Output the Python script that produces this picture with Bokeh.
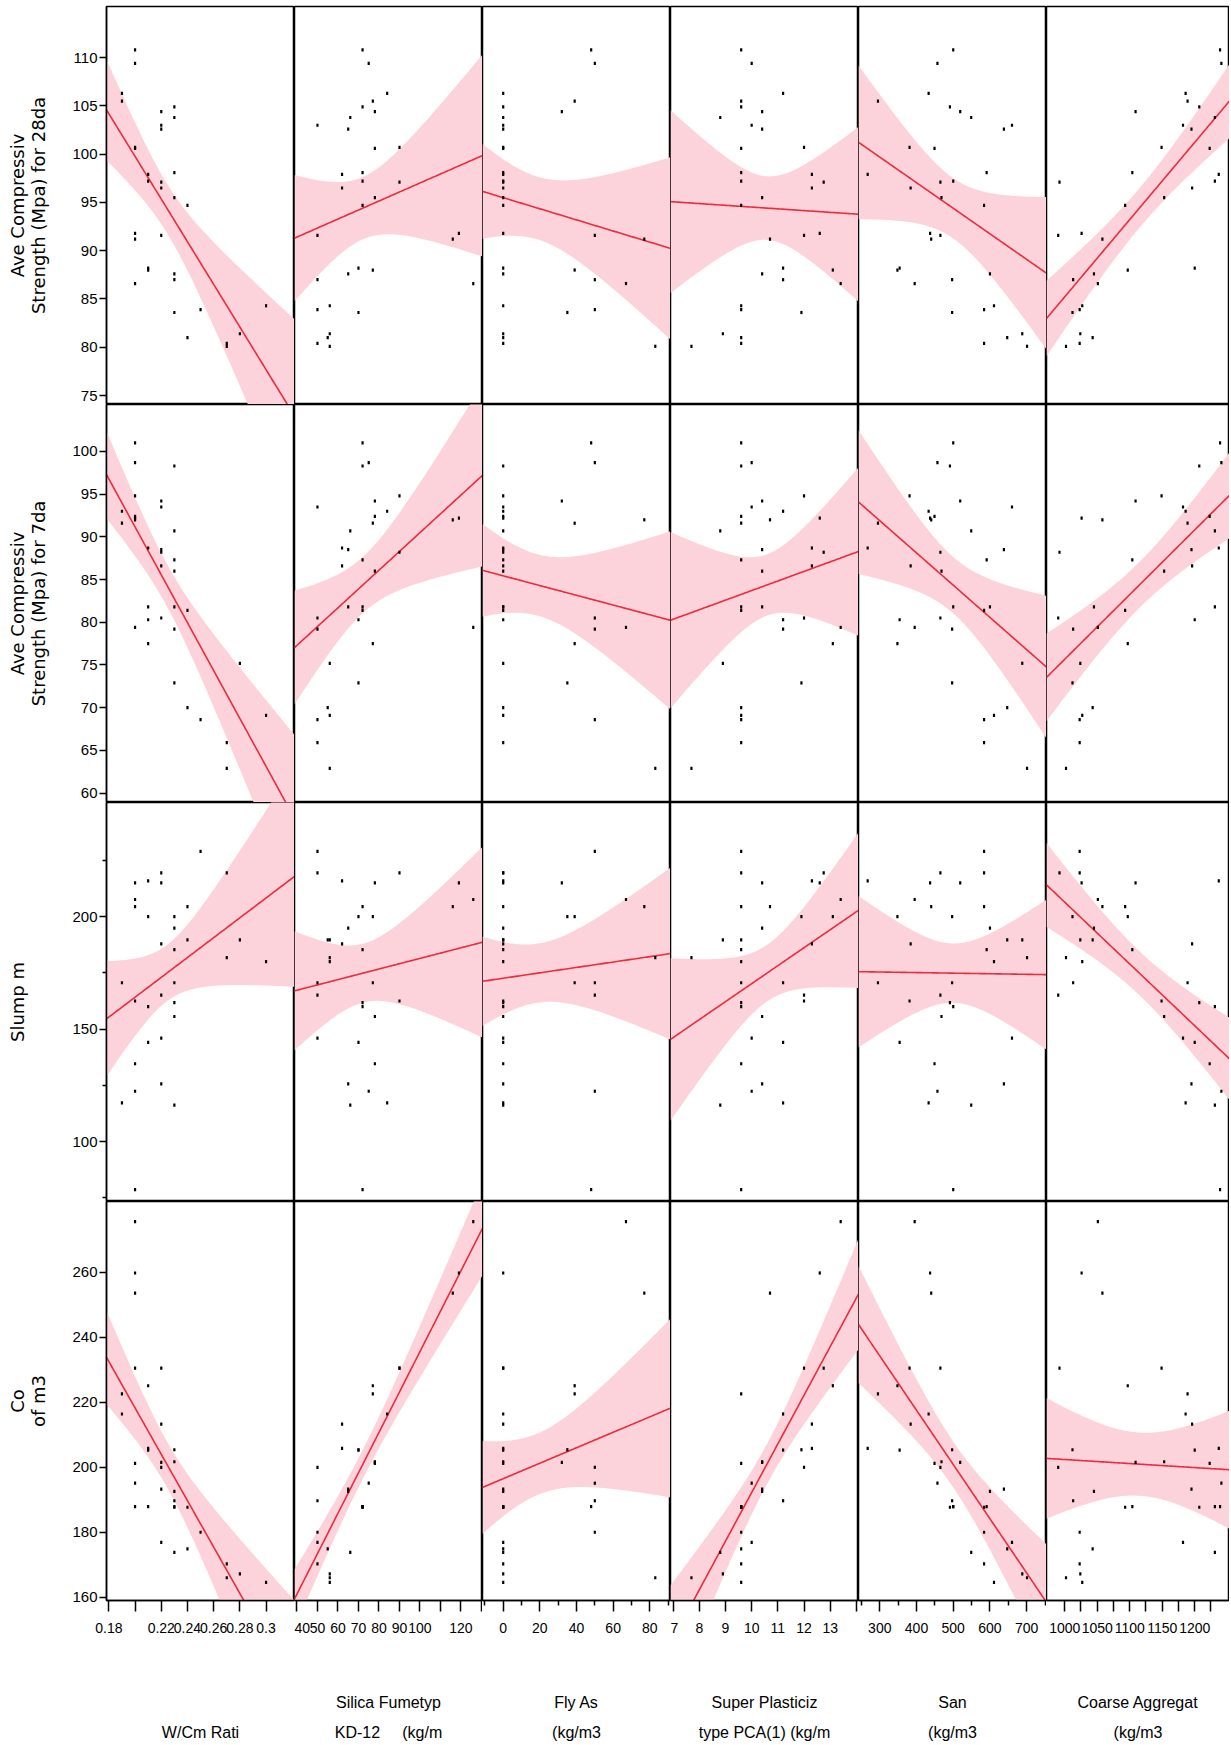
import numpy as np
from bokeh.plotting import figure
from bokeh.layouts import gridplot
from bokeh.models import FixedTicker, Range1d
from bokeh.embed import file_html
from bokeh.resources import INLINE

# ---- data: one entry per mix (33 mixes) ----
wcm = [0.20, 0.20, 0.19, 0.19, 0.23, 0.22, 0.23, 0.22, 0.22, 0.20, 0.20, 0.23, 0.21, 0.21, 0.22, 0.22, 0.23,
       0.24, 0.20, 0.22, 0.20, 0.21, 0.21, 0.23, 0.23, 0.20, 0.30, 0.25, 0.23, 0.28, 0.24, 0.27, 0.27]
silica = [72, 75, 84, 77, 72, 78, 66, 50, 65, 90, 78, 72, 62, 72, 90, 62, 78,
          72, 119, 50, 116, 70, 77, 65, 50, 126, 56, 50, 70, 56, 55, 50, 56]
fly = [48, 50, 0, 39, 0, 32, 0, 0, 0, 0, 0, 0, 0, 0, 0, 0, 0,
       0, 0, 50, 77, 0, 39, 0, 50, 67, 0, 50, 35, 0, 0, 0, 83]
sp = [9.6, 10.0, 11.2, 9.6, 9.6, 10.4, 8.8, 10.0, 10.4, 12.0, 9.6, 9.6, 12.3, 9.6, 12.75, 12.3, 10.4,
      9.6, 12.6, 12.0, 10.7, 11.2, 13.1, 10.4, 11.2, 13.4, 9.6, 9.6, 11.9, 8.9, 9.6, 9.6, 7.7]
sand = [500, 457, 433, 295, 491, 519, 549, 660, 638, 381, 449, 591, 267, 500, 465, 384, 468,
        584, 437, 465, 440, 354, 348, 600, 497, 395, 611, 584, 497, 688, 647, 584, 701]
coarse = [1239, 1241, 1186, 1189, 1207, 1109, 1231, 1182, 1195, 1149, 1223, 1104, 1237, 1231, 992, 1196, 1153,
          1093, 1026, 990, 1058, 1200, 1097, 1045, 1013, 1051, 1027, 1023, 1012, 1024, 1043, 1023, 1002]
s28 = [110.8, 109.4, 106.3, 105.5, 104.9, 104.4, 103.8, 103.0, 102.6, 100.7, 100.6, 98.1, 97.9, 97.2, 97.1, 96.5, 95.5,
       94.7, 91.8, 91.6, 91.2, 88.2, 88.0, 87.6, 87.0, 86.6, 84.3, 83.9, 83.6, 81.4, 81.0, 80.4, 80.1]
s7 = [101.0, 98.7, 93.0, 91.6, 98.3, 94.2, 90.7, 93.5, 88.5, 94.8, 92.4, 87.3, 88.7, 81.8, 88.2, 86.6, 86.0,
      81.4, 92.2, 80.5, 92.0, 80.3, 77.5, 81.8, 79.2, 79.4, 69.1, 68.6, 72.9, 75.2, 70.0, 65.9, 62.9]
slump = [78.7, 122.4, 117.2, 170.6, 161.8, 215.0, 116.2, 146.0, 125.7, 162.5, 134.6, 185.3, 215.9, 160.0, 219.4, 187.9, 155.6,
         204.4, 215.0, 165.1, 204.4, 144.1, 200.0, 194.9, 170.6, 207.6, 180.0, 229.0, 200.0, 189.7, 189.7, 219.4, 181.8]
cost = [187.9, 195.1, 216.4, 222.6, 187.7, 201.5, 173.8, 176.9, 193.3, 230.5, 201.2, 187.9, 205.8, 187.9, 230.5, 213.3, 201.7,
        187.7, 259.8, 200.0, 253.6, 205.3, 225.1, 192.6, 189.7, 275.6, 164.6, 180.0, 205.4, 167.2, 174.9, 170.3, 166.0]

x_titles = [" \nW/Cm Rati",
            "Silica Fumetyp\nKD-12\u00a0\u00a0\u00a0\u00a0\u00a0(kg/m",
            "Fly As\n(kg/m3",
            "Super Plasticiz\ntype PCA(1) (kg/m",
            "San\n(kg/m3",
            "Coarse Aggregat\n(kg/m3"]
y_titles = ["Ave Compressiv\nStrength (Mpa) for 28da",
            "Ave Compressiv\nStrength (Mpa) for 7da",
            "Slump m\n\u00a0",
            "Co\nof m3"]

# tick values and labels
x_ticks = [[0.18, 0.2, 0.22, 0.24, 0.26, 0.28, 0.3],
           [40, 50, 60, 70, 80, 90, 100, 110, 120, 130],
           [0, 20, 40, 60, 80],
           [7, 8, 9, 10, 11, 12, 13, 14],
           [300, 400, 500, 600, 700],
           [1000, 1025, 1050, 1075, 1100, 1125, 1150, 1175, 1200, 1225]]
x_tick_labels = [["0.18", "", "0.22", "0.24", "0.26", "0.28", "0.3"],
                 ["40", "50", "60", "70", "80", "90", "100", "", "120", ""],
                 ["0", "20", "40", "60", "80"],
                 ["7", "8", "9", "10", "11", "12", "13", ""],
                 ["300", "400", "500", "600", "700"],
                 ["1000", "", "1050", "", "1100", "", "1150", "", "1200", ""]]
x_minor = [[], [], [-10, 10, 30, 50, 70, 90], [], [250, 350, 450, 550, 650, 750], []]
y_ticks = [[75, 80, 85, 90, 95, 100, 105, 110],
           [60, 65, 70, 75, 80, 85, 90, 95, 100],
           [100, 150, 200],
           [160, 180, 200, 220, 240, 260]]
y_minor = [[], [], [75, 125, 175, 225], []]

x_ranges = [(0.1782, 0.3217), (38.8, 130.5), (-11.3, 91.3), (6.9, 14.08), (242, 754), (972, 1253.5)]
y_ranges = [(74.07, 115.3), (58.9, 105.5), (73.4, 250.7), (159.0, 281.8)]

x_vars = [wcm, silica, fly, sp, sand, coarse]
y_vars = [s28, s7, slump, cost]

TICKFONT = "Liberation Sans"
BAND = "#fcd3da"
LINE = "#ee2a3c"
T95 = 2.04

FRAME_W = [188, 188, 188, 188, 188, 183]
FRAME_H = [398, 398, 399, 399]


def fit_band(x, y, x0, x1, n=120):
    x = np.asarray(x, float)
    y = np.asarray(y, float)
    b, a = np.polyfit(x, y, 1)
    xs = np.linspace(x0, x1, n)
    yhat = a + b * xs
    resid = y - (a + b * x)
    s = np.sqrt(np.sum(resid ** 2) / (len(x) - 2))
    sxx = np.sum((x - x.mean()) ** 2)
    se = s * np.sqrt(1.0 / len(x) + (xs - x.mean()) ** 2 / sxx)
    return xs, yhat, yhat - T95 * se, yhat + T95 * se


rows = []
for r in range(4):
    row = []
    for c in range(6):
        left = c == 0
        bottom = r == 3
        p = figure(frame_width=FRAME_W[c], frame_height=FRAME_H[r],
                   x_range=Range1d(*x_ranges[c]), y_range=Range1d(*y_ranges[r]),
                   x_axis_location="below" if bottom else None,
                   y_axis_location="left" if left else None,
                   toolbar_location=None, output_backend="svg",
                   min_border_left=106 if left else 0, min_border_right=0,
                   min_border_top=6 if r == 0 else 0,
                   min_border_bottom=142 if bottom else 0,
                   background_fill_color="white", border_fill_color="white",
                   outline_line_color="black", outline_line_width=1.5)
        p.grid.visible = False

        xs, yh, lo, hi = fit_band(x_vars[c], y_vars[r], *x_ranges[c])
        p.varea(x=xs, y1=lo, y2=hi, fill_color=BAND, fill_alpha=1.0)
        p.line(xs, yh, line_color=LINE, line_width=1.6)
        p.rect(x=x_vars[c], y=y_vars[r], width=2.2, height=3.2,
               width_units="screen", height_units="screen",
               fill_color="black", line_color=None)

        if left:
            ax = p.yaxis[0]
            ax.ticker = FixedTicker(ticks=y_ticks[r], minor_ticks=y_minor[r])
            ax.major_tick_out = 7
            ax.major_tick_in = 0
            ax.minor_tick_out = 4
            ax.minor_tick_in = 0
            ax.major_tick_line_width = 1.5
            ax.minor_tick_line_width = 1.5
            ax.axis_line_width = 1.5
            ax.major_label_standoff = 2
            ax.major_label_text_font = TICKFONT
            ax.major_label_text_font_size = "15px"
            ax.major_label_text_color = "black"
            ax.axis_label = y_titles[r]
            ax.axis_label_text_font = "DejaVu Sans"
            ax.axis_label_text_font_size = "18px"
            ax.axis_label_text_font_style = "normal"
            ax.axis_label_text_color = "black"
            ax.axis_label_text_line_height = 1.0
            ax.axis_label_standoff = 20
        if bottom:
            ax = p.xaxis[0]
            ax.ticker = FixedTicker(ticks=x_ticks[c], minor_ticks=x_minor[c])
            ax.major_label_overrides = dict(zip(x_ticks[c], x_tick_labels[c]))
            ax.major_tick_out = 11
            ax.major_tick_in = 0
            ax.minor_tick_out = 5
            ax.minor_tick_in = 0
            ax.major_tick_line_width = 1.5
            ax.minor_tick_line_width = 1.5
            ax.axis_line_width = 1.5
            ax.major_label_standoff = 11
            ax.major_label_text_font = TICKFONT
            ax.major_label_text_font_size = "14px"
            ax.major_label_text_color = "black"
            ax.axis_label = x_titles[c]
            ax.axis_label_text_font = TICKFONT
            ax.axis_label_text_font_size = "16px"
            ax.axis_label_text_font_style = "normal"
            ax.axis_label_text_color = "black"
            ax.axis_label_text_line_height = 1.77
            ax.axis_label_standoff = 58
        row.append(p)
    rows.append(row)

grid = gridplot(rows, toolbar_location=None)
open("out.html", "w").write(file_html(grid, INLINE))
